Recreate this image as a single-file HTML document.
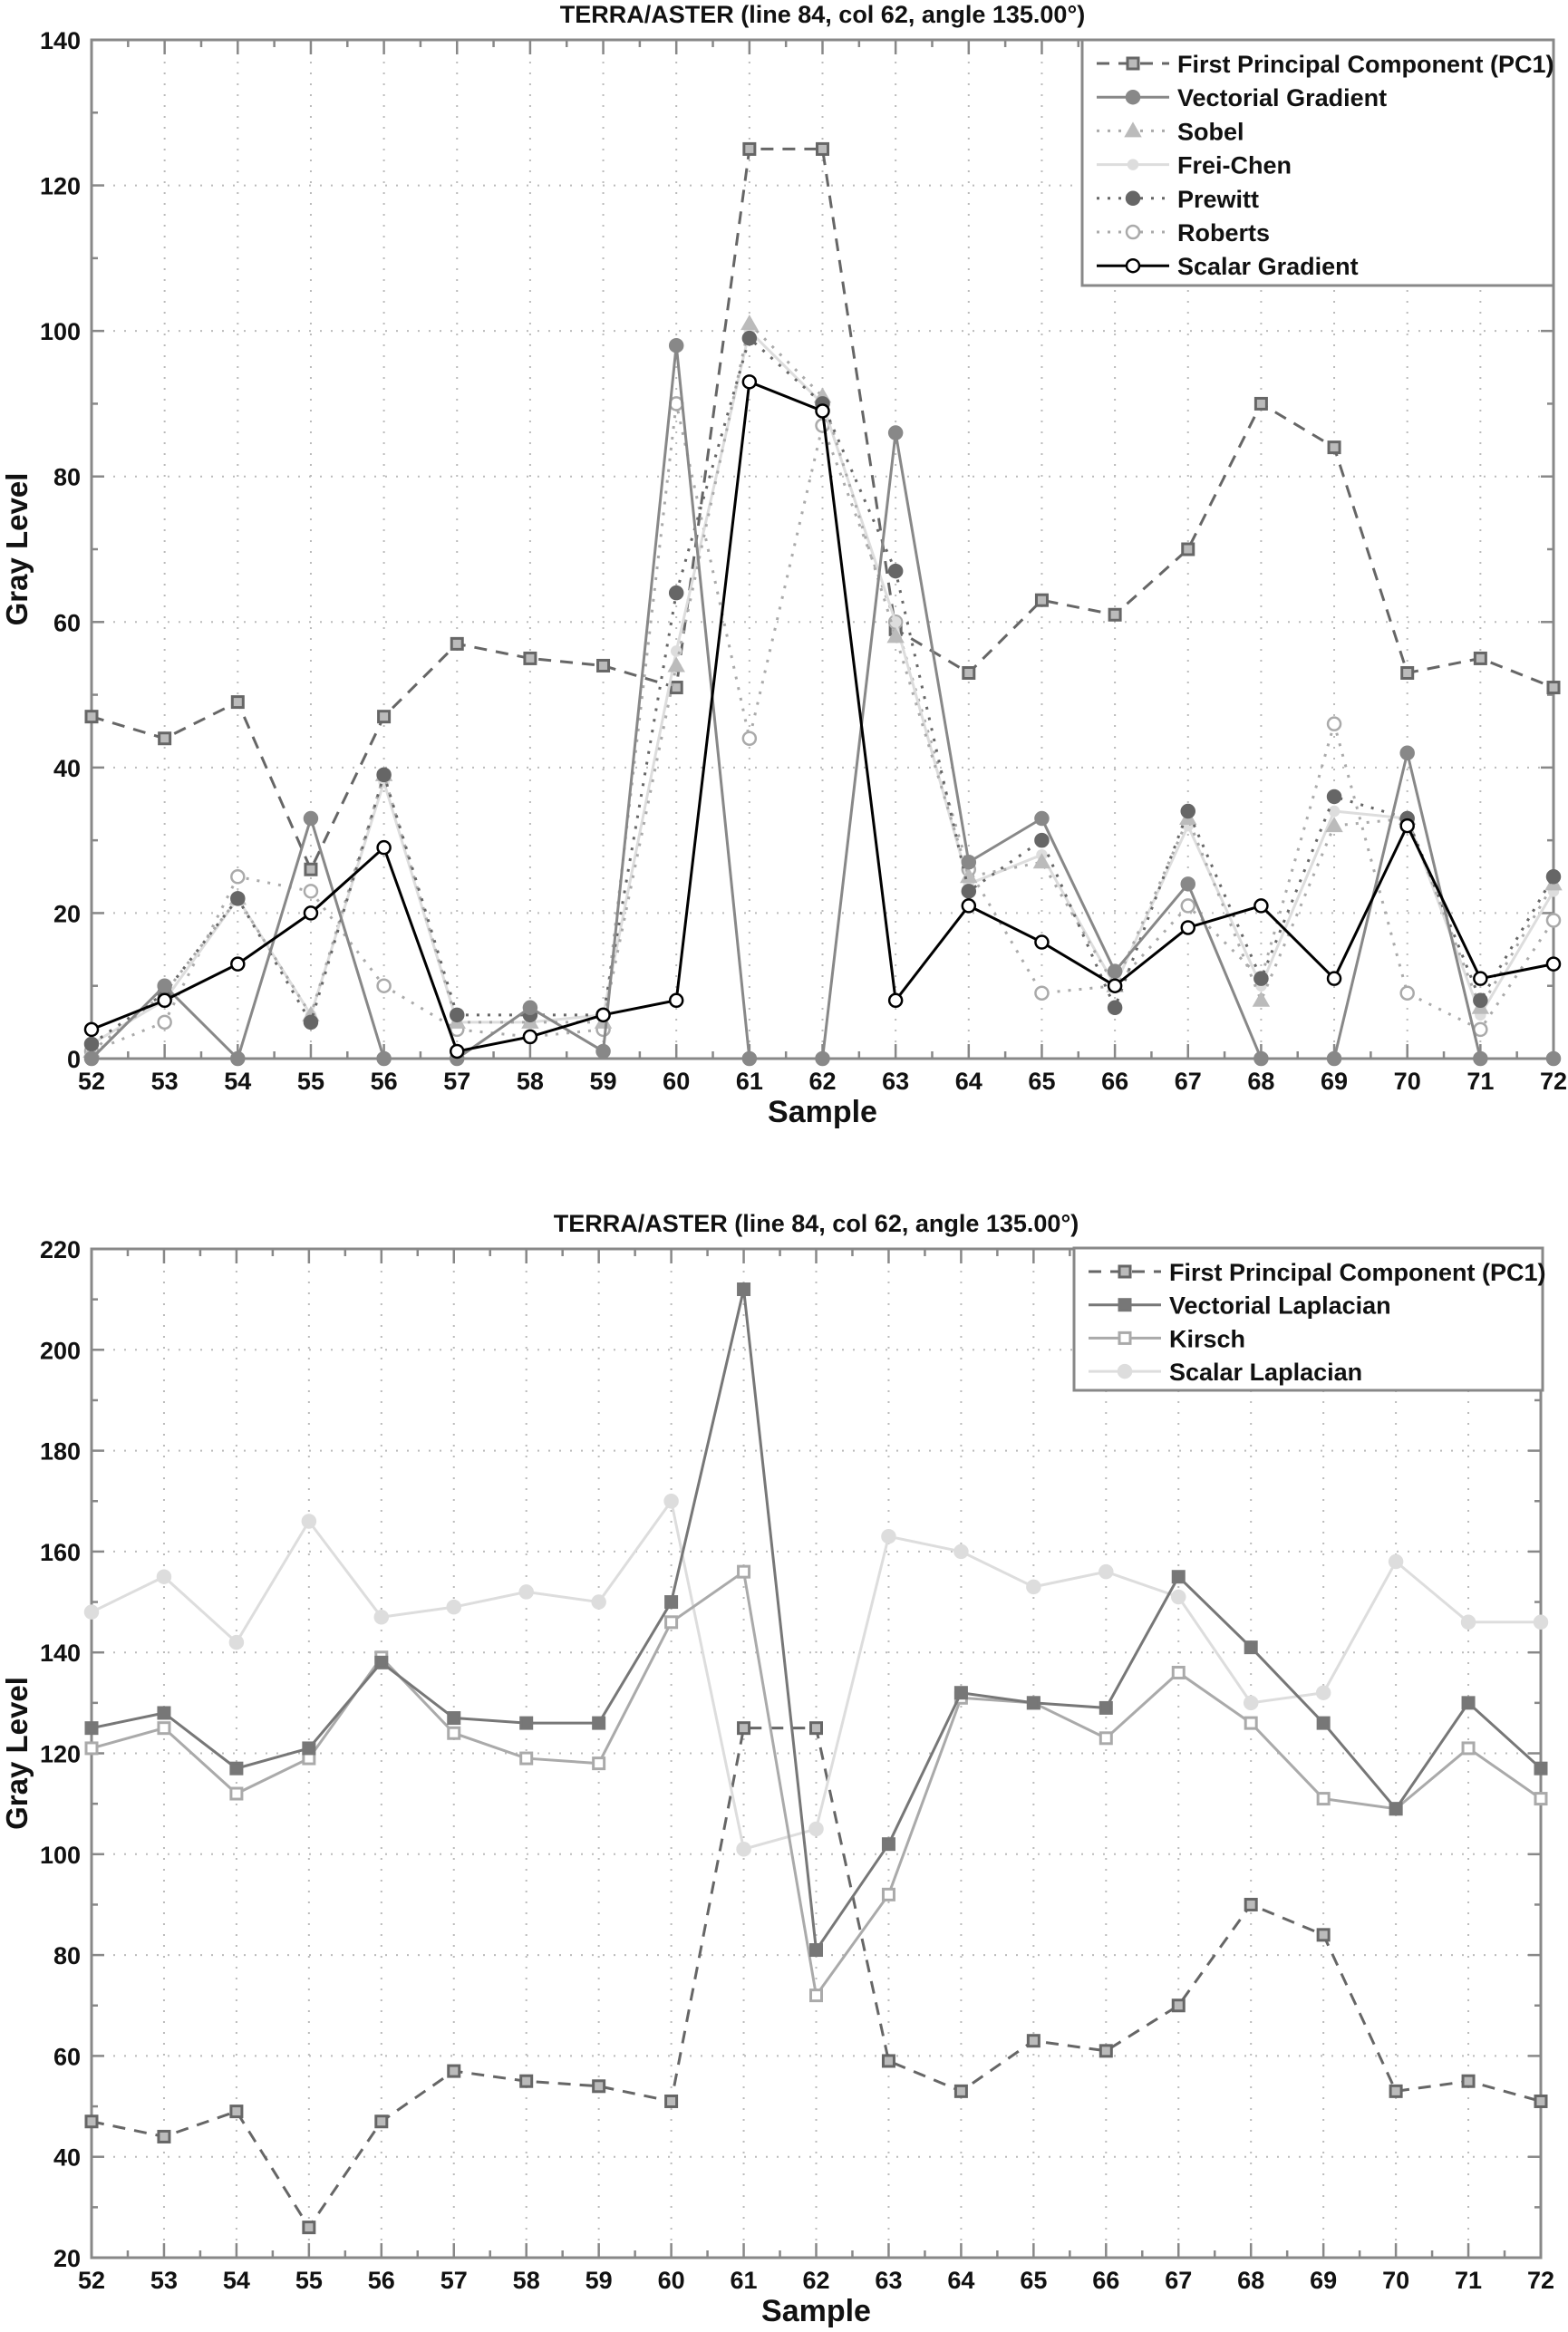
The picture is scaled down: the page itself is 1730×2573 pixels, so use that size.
<!DOCTYPE html>
<html><head><meta charset="utf-8"><style>
html,body{margin:0;padding:0;background:#fff}
svg{display:block;font-family:"Liberation Sans",sans-serif}
</style></head><body>
<svg id="svg" width="1730" height="2573" viewBox="0 0 1730 2573" xmlns="http://www.w3.org/2000/svg"></svg>
<script>
const samples=[52,53,54,55,56,57,58,59,60,61,62,63,64,65,66,67,68,69,70,71,72];
const pc1=[47,44,49,26,47,57,55,54,51,125,125,59,53,63,61,70,90,84,53,55,51];
const vecGrad=[0,10,0,33,0,0,7,1,98,0,0,86,27,33,12,24,0,0,42,0,0];
const sobel=[1,9,22,6,39,5,5,5,54,101,91,58,25,27,10,33,8,32,33,7,24];
const freiChen=[2,8,22,6,38,5,5,6,56,100,90,60,24,28,10,32,10,34,33,6,23];
const prewitt=[2,9,22,5,39,6,6,6,64,99,90,67,23,30,7,34,11,36,33,8,25];
const roberts=[1,5,25,23,10,4,3,4,90,44,87,60,26,9,10,21,11,46,9,4,19];
const scalarGrad=[4,8,13,20,29,1,3,6,8,93,89,8,21,16,10,18,21,11,32,11,13];
const vecLap=[125,128,117,121,138,127,126,126,150,212,81,102,132,130,129,155,141,126,109,130,117];
const kirsch=[121,125,112,119,139,124,119,118,146,156,72,92,131,130,123,136,126,111,109,121,111];
const scalarLap=[148,155,142,166,147,149,152,150,170,101,105,163,160,153,156,151,130,132,158,146,146];
const yTicksTop=[0,20,40,60,80,100,120,140];
const yTicksBot=[20,40,60,80,100,120,140,160,180,200,220];

const NS="http://www.w3.org/2000/svg";
const svg=document.getElementById('svg');
function el(tag,attrs,parent){const e=document.createElementNS(NS,tag);for(const k in attrs)e.setAttribute(k,attrs[k]);(parent||svg).appendChild(e);return e;}

function marker(g,type,x,y,st){
  let m;
  if(type==='sq'){m=el('rect',{x:x-6,y:y-6,width:12,height:12,fill:st.mfill,stroke:st.mstroke,'stroke-width':3},g);}
  else if(type==='tri'){m=el('polygon',{points:`${x},${y-8} ${x-8},${y+6} ${x+8},${y+6}`,fill:st.mfill,stroke:st.mstroke,'stroke-width':2},g);}
  else{m=el('circle',{cx:x,cy:y,r:st.r||7,fill:st.mfill,stroke:st.mstroke,'stroke-width':2.5},g);}
  
  
}

function chart(cfg){
  const g=el('g',{});
  
  
  const {x0,x1,y0,y1,ymin,ymax}=cfg;
  const X=s=>x0+(s-52)*(x1-x0)/20;
  const Y=v=>y1-(v-ymin)*(y1-y0)/(ymax-ymin);
  const grid=el('g',{stroke:'#bbb','stroke-width':2,'stroke-dasharray':'2,10'},g);
  
  
  samples.forEach(s=>{if(s>52&&s<72)el('line',{x1:X(s),x2:X(s),y1:y0,y2:y1},grid);});
  cfg.yt.forEach(v=>{if(v>ymin&&v<ymax)el('line',{x1:x0,x2:x1,y1:Y(v),y2:Y(v)},grid);});
  const fr=el('rect',{x:x0,y:y0,width:x1-x0,height:y1-y0,fill:'none',stroke:'#888','stroke-width':3},g);
  
  
  const tk=el('g',{stroke:'#888','stroke-width':2.5},g);
  for(let s=52;s<=72;s+=0.5){const L=(s%1===0)?16:8;el('line',{x1:X(s),x2:X(s),y1:y1,y2:y1-L},tk);el('line',{x1:X(s),x2:X(s),y1:y0,y2:y0+L},tk);}
  for(let v=ymin;v<=ymax;v+=10){const L=(v%20===0)?14:7;el('line',{x1:x0,x2:x0+L,y1:Y(v),y2:Y(v)},tk);el('line',{x1:x1,x2:x1-L,y1:Y(v),y2:Y(v)},tk);}
  samples.forEach(s=>{const t=el('text',{x:X(s),y:y1+34,'font-size':27,'font-weight':'bold','text-anchor':'middle',fill:'#111'},g);t.textContent=s;
    
    });
  cfg.yt.forEach(v=>{const t=el('text',{x:x0-12,y:Y(v)+10,'font-size':27,'font-weight':'bold','text-anchor':'end',fill:'#111'},g);t.textContent=v;
    
    });
  const tt=el('text',{x:(x0+x1)/2,y:y0-19,'font-size':27,'font-weight':'bold','text-anchor':'middle',fill:'#111'},g);
  tt.textContent='TERRA/ASTER (line 84, col 62, angle 135.00°)';
  
  
  const xl=el('text',{x:(x0+x1)/2,y:y1+70,'font-size':34,'font-weight':'bold','text-anchor':'middle',fill:'#111'},g);
  xl.textContent='Sample';
  
  
  const yl=el('text',{x:0,y:0,'font-size':33,'font-weight':'bold','text-anchor':'middle',fill:'#111',transform:`translate(30,${(y0+y1)/2}) rotate(-90)`},g);
  yl.textContent='Gray Level';
  
  
  cfg.series.forEach(se=>{
    const sg=el('g',{},g);
    
    
    const pts=se.data.map((v,i)=>`${X(samples[i])},${Y(v)}`).join(' ');
    el('polyline',{points:pts,fill:'none',stroke:se.color,'stroke-width':se.w||3,'stroke-dasharray':se.dash||'none'},sg);
    se.data.forEach((v,i)=>marker(sg,se.m,X(samples[i]),Y(v),se));
  });
  const lg=el('g',{},g);
  
  
  const L=cfg.leg;
  el('rect',{x:L.x,y:L.y,width:L.w,height:L.h,fill:'#fff',stroke:'#888','stroke-width':3},lg);
  cfg.series.slice().sort((a,b)=>a.order-b.order).forEach((se,i)=>{
    const yy=L.y+26+i*L.dy;
    const eg=el('g',{},lg);
    
    
    el('line',{x1:L.x+16,x2:L.x+96,y1:yy,y2:yy,stroke:se.color,'stroke-width':se.w||3,'stroke-dasharray':se.dash||'none'},eg);
    marker(eg,se.m,L.x+56,yy,se);
    const t=el('text',{x:L.x+105,y:yy+10,'font-size':27,'font-weight':'bold',fill:'#111'},eg);
    t.textContent=se.label;
  });
}

const pcStyle={id:'series-pc1',label:'First Principal Component (PC1)',data:pc1,color:'#666',dash:'14,10',m:'sq',mfill:'#bbb',mstroke:'#666',order:0};
chart({name:'gradient-chart',x0:101,x1:1714,y0:44,y1:1168,ymin:0,ymax:140,yt:yTicksTop,
  leg:{x:1194,y:44,w:520,h:271,dy:37.2},
  series:[
    pcStyle,
    {id:'series-roberts',label:'Roberts',data:roberts,color:'#aaa',dash:'3,9',m:'c',mfill:'#fff',mstroke:'#aaa',order:5},
    {id:'series-frei-chen',label:'Frei-Chen',data:freiChen,color:'#ddd',m:'c',r:5,mfill:'#ddd',mstroke:'#ddd',order:3},
    {id:'series-sobel',label:'Sobel',data:sobel,color:'#aaa',dash:'3,9',m:'tri',mfill:'#bbb',mstroke:'#bbb',order:2},
    {id:'series-prewitt',label:'Prewitt',data:prewitt,color:'#666',dash:'3,9',m:'c',mfill:'#666',mstroke:'#666',order:4},
    {id:'series-vectorial-gradient',label:'Vectorial Gradient',data:vecGrad,color:'#888',m:'c',mfill:'#888',mstroke:'#888',order:1},
    {id:'series-scalar-gradient',label:'Scalar Gradient',data:scalarGrad,color:'#000',m:'c',mfill:'#fff',mstroke:'#000',order:6}
  ]});
chart({name:'laplacian-chart',x0:101,x1:1700,y0:1378,y1:2491,ymin:20,ymax:220,yt:yTicksBot,
  leg:{x:1185,y:1377,w:517,h:157,dy:36.7},
  series:[
    Object.assign({},pcStyle,{id:'series-pc1-b'}),
    {id:'series-scalar-laplacian',label:'Scalar Laplacian',data:scalarLap,color:'#ddd',m:'c',mfill:'#ddd',mstroke:'#ddd',order:3},
    {id:'series-kirsch',label:'Kirsch',data:kirsch,color:'#aaa',m:'sq',mfill:'#fff',mstroke:'#aaa',order:2},
    {id:'series-vectorial-laplacian',label:'Vectorial Laplacian',data:vecLap,color:'#777',m:'sq',mfill:'#777',mstroke:'#777',order:1}
  ]});
</script>
</body></html>
